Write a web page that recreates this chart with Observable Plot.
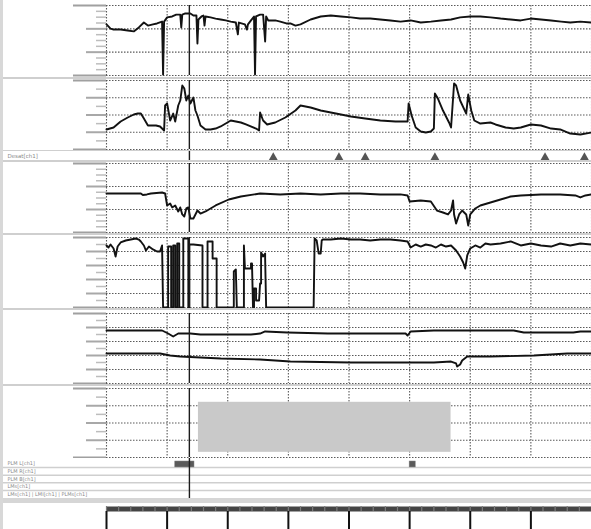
<!DOCTYPE html>
<html><head><meta charset="utf-8">
<script src="https://cdn.jsdelivr.net/npm/d3@7"></script>
<script src="https://cdn.jsdelivr.net/npm/@observablehq/plot@0.6"></script>
<style>
body{margin:0;background:#fff;}
#root{position:relative;width:591px;height:529px;overflow:hidden;font-family:"DejaVu Sans",sans-serif;background:#fff;}
#root svg{display:block;background:transparent;font-family:"DejaVu Sans",sans-serif;}
.sep2{border-bottom:2px solid #cfcfcf;}
.top1{border-top:1px solid #cfcfcf;}
.band{border-bottom:5px solid #d6d6d6;}
#edge{position:absolute;left:0;top:0;width:3px;height:529px;background:#d8d8d8;}
</style></head><body><div id="root"></div><script>
// ---- time axis (seconds), cursor ----
const timeTicks = [0, 60, 120, 180, 240, 300, 360, 420, 480];
const axisTicks = [0, 60, 120, 180, 240, 300, 360, 420];
const minorTimeTicks = d3.range(0, 481, 12);
const cursorTime = [82];

// ---- panel 1 ----
const p1Time = [0,4,7,14,21,27,32,37,41,46,50,55,56,57,60,65,69,73,74,75,78,80,83,86,89,90,91,94,96,97,98,103,108,113,118,123,128,130,131,137,139,140,143,146,147,148,152,155,157,158,160,167,172,178,182,187,192,202,212,222,232,242,251,261,271,281,291,301,311,321,331,341,350,360,370,380,390,400,410,420,430,440,450,459,469,480];
const p1Value = [91.9,90.1,89.7,89.7,89.3,88.9,90.6,92.7,91.4,91.9,92.3,93.1,70.4,93.1,94.9,95.3,96.1,96.1,90.6,96.1,96.6,96.6,96.6,95.7,95.7,83.7,94.0,95.3,95.7,91.4,95.3,94.9,94.4,94.0,93.6,93.1,92.7,87.6,92.7,91.9,89.7,91.9,93.6,95.3,70.4,95.3,96.1,96.1,84.6,95.3,93.6,93.6,93.1,92.3,92.3,91.4,91.9,94.0,95.3,95.7,95.3,94.9,94.4,94.4,94.0,93.6,93.1,93.6,92.7,93.1,93.6,94.0,94.9,95.3,95.3,94.9,94.4,94.0,93.6,94.4,94.0,93.6,93.1,92.7,93.1,92.7];
const p1Major = [70, 80, 90, 100];
const p1Minor = [72.5, 75, 77.5, 82.5, 85, 87.5, 92.5, 95, 97.5];

// ---- panel 2 ----
const p2Time = [0,7,14,21,27,31,34,37,41,49,53,57,58,60,63,66,68,71,73,75,77,79,81,83,86,88,90,93,98,103,108,113,118,123,128,133,138,148,151,152,155,159,167,177,187,192,202,212,227,242,256,271,286,298,299,302,306,311,316,321,324,325,328,333,339,341,344,346,350,356,358,361,364,370,380,385,395,403,410,420,430,440,449,459,469,480];
const p2Value = [23.2,25.5,32.5,37.1,40.6,41.7,41.7,35.9,27.8,27.8,26.7,22.0,51.0,53.3,33.6,41.7,32.5,51.0,56.8,74.2,70.7,56.8,62.6,53.3,60.3,45.2,39.4,27.8,23.2,23.2,24.3,26.7,30.1,33.6,32.5,31.3,29.0,24.3,22.0,42.9,33.6,29.0,31.3,37.1,45.2,51.0,48.7,45.2,41.7,38.2,35.9,33.6,32.5,32.5,53.3,39.4,25.5,20.9,19.7,20.9,24.3,64.9,59.1,45.2,31.3,25.5,76.5,74.2,56.8,41.7,63.7,45.2,33.6,30.1,31.3,29.0,25.5,24.3,25.5,29.0,27.8,24.3,23.2,18.5,17.4,19.7];
const p2Major = [0, 20, 40, 60, 80];
const p2Minor = [10, 30, 50, 70];

// ---- event markers row ----
const markerLabel = ["Desat[ch1]"];
const markerTimes = [165, 230, 256, 325, 434, 473];

// ---- panel 3 ----
const p3Time = [0,34,36,40,44,55,58,60,63,65,68,71,73,75,77,79,81,83,86,90,93,98,108,121,133,152,172,192,212,232,251,271,291,298,300,311,321,327,333,338,341,343,344,346,349,352,356,358,360,365,370,380,390,400,410,430,449,464,469,474,480];
const p3Value = [33.9,33.9,32.6,33.1,33.9,34.8,33.9,23.5,25.2,21.8,23.5,18.3,21.8,15.7,13.9,20.9,21.8,12.2,12.2,19.1,16.5,18.3,23.5,28.7,31.3,33.9,33.1,33.9,33.1,33.9,33.9,33.1,33.1,32.2,27.0,27.8,27.0,19.1,17.4,15.7,19.1,27.8,15.7,7.8,15.7,19.1,15.7,6.1,15.7,20.9,23.5,26.1,28.7,31.3,32.2,33.1,33.1,32.2,30.5,32.2,33.1];
const p3Major = [0, 20, 40, 60];
const p3Minor = [5, 10, 15, 25, 30, 35, 45, 50, 55];

// ---- panel 4 ----
const p4Time = [0,2,4,7,9,11,14,19,24,29,32,34,37,39,42,46,50,53,55,56,61,61,64,64,66,66,68,68,70,70,72,72,76,76,81,81,82,82,86,95,95,100,100,105,105,109,109,126,126,128,129,130,136,136,137,143,143,144,145,146,146,148,148,151,152,153,153,155,157,157,158,205,206,208,210,212,213,214,222,232,242,251,261,271,281,291,298,301,306,311,316,321,326,331,336,341,346,350,353,355,357,360,365,370,375,380,390,400,410,420,430,440,449,459,469,480];
const p4Value = [88.6,85.7,90.0,84.3,72.9,87.1,92.9,95.7,97.1,98.6,97.1,94.3,88.6,81.4,87.1,82.9,80.0,80.0,88.6,0,0,87.1,87.1,0,0,88.6,88.6,0,0,91.4,91.4,0,0,98.6,98.6,0,0,90.0,90.0,88.6,0,0,94.3,94.3,70.0,70.0,0,0,51.4,54.3,0,0,0,88.6,55.7,55.7,62.9,62.9,0,0,27.1,27.1,10.0,10.0,34.3,34.3,78.6,72.9,77.1,70.0,0,0,98.6,95.7,77.1,77.1,95.7,97.1,97.1,98.6,97.1,97.1,95.7,97.1,97.1,95.7,94.3,85.7,90.0,87.1,90.0,88.6,85.7,90.0,87.1,88.6,81.4,72.9,64.3,55.7,74.3,84.3,88.6,85.7,91.4,90.0,91.4,94.3,88.6,91.4,88.6,87.1,91.4,88.6,91.4,90.0];
const p4Major = [0, 20, 40, 60, 80, 100];
const p4Minor = [10, 30, 50, 70, 90];

// ---- panel 5 (two traces) ----
const p5aTime = [0,55,61,66,71,83,93,143,152,157,179,219,239,296,298,301,324,403,413,462,469,480];
const p5aValue = [75.7,75.7,71.4,67.1,71.4,71.4,70.0,70.0,71.4,74.3,72.9,71.4,71.4,71.4,68.6,74.3,75.7,75.7,72.9,72.9,74.3,74.3];
const p5bTime = [0,53,63,73,93,113,152,182,242,324,341,346,347,350,352,357,380,423,456,480];
const p5bValue = [42.9,42.9,40.0,38.6,37.1,35.7,34.3,31.4,30.0,30.0,31.4,28.6,24.3,27.1,32.9,38.6,38.6,40.0,42.9,42.9];
const p5Major = [0, 20, 40, 60, 80, 100];
const p5Minor = [10, 30, 50, 70, 90];

// ---- panel 6 (shaded window) ----
const p6Start = [91];
const p6End = [341];
const p6Low = [6];
const p6High = [64];
const p6Major = [0, 20, 40, 60, 80];
const p6Minor = [10, 30, 50, 70];

// ---- event rows ----
const eventLabels = ["PLM L[ch1]", "PLM R[ch1]", "PLM B[ch1]", "LMs[ch1]", "LMs[ch1] | LMI[ch1] | PLMs[ch1]"];
const eventRow = [0, 0];
const eventStart = [68, 300];
const eventEnd = [87, 306];

// ------------------------------------------------------------
const zip = (t, v) => t.map((d, i) => ({t: d, v: v[i]}));
const dotted = {stroke: "#5a5a5a", strokeOpacity: 1, strokeDasharray: "1.5,1.5", strokeWidth: 1.1};
const trace = {x: "t", y: "v", stroke: "#121212", strokeWidth: 1.9, curve: "linear"};
const cursor = () => Plot.ruleX(cursorTime, {stroke: "#1c1c1c", strokeWidth: 1.4});
const blank = () => "";

function panel({height, top, bottom, major, minor, marks}) {
  const domain = [major[0], major[major.length - 1]];
  return Plot.plot({
    width: 591, height, marginLeft: 106, marginRight: 0, marginTop: top, marginBottom: bottom,
    x: {domain: [0, 480], axis: null},
    y: {domain, axis: null},
    marks: [
      Plot.gridX(timeTicks, dotted),
      Plot.gridY(major, dotted),
      Plot.axisY(minor, {anchor: "left", tickSize: 10, tickFormat: blank, label: null, stroke: "#bdbdbd", strokeWidth: 1.5}),
      Plot.axisY(major.slice(1, -1), {anchor: "left", tickSize: 20, tickFormat: blank, label: null, stroke: "#a8a8a8", strokeWidth: 2}),
      Plot.axisY(domain, {anchor: "left", tickSize: 33, tickFormat: blank, label: null, stroke: "#a0a0a0", strokeWidth: 2}),
      ...marks,
      cursor()
    ]
  });
}

function wrap(node, cls) {
  const d = document.createElement("div");
  if (cls) d.className = cls;
  d.appendChild(node);
  return d;
}

const root = document.getElementById("root");

root.appendChild(wrap(panel({height: 77, top: 5, bottom: 2, major: p1Major, minor: p1Minor,
  marks: [Plot.line(zip(p1Time, p1Value), trace)]}), "sep2"));

root.appendChild(wrap(panel({height: 71, top: 1, bottom: 1, major: p2Major, minor: p2Minor,
  marks: [Plot.line(zip(p2Time, p2Value), trace)]})));

root.appendChild(wrap(Plot.plot({
  width: 591, height: 9, margin: 0,
  x: {domain: [-105, 480], axis: null}, y: {domain: [0, 1], axis: null},
  marks: [
    Plot.text(markerLabel, {frameAnchor: "left", dx: 7, fontSize: 5.5, fill: "#8a8a8a"}),
    Plot.dot(markerTimes, {x: d => d, symbol: "triangle", r: 3.3, fill: "#555", stroke: null, dy: 1.5}),
    cursor()
  ]
}), "top1 sep2"));

root.appendChild(wrap(panel({height: 71, top: 1, bottom: 1, major: p3Major, minor: p3Minor,
  marks: [Plot.line(zip(p3Time, p3Value), trace)]}), "sep2"));

root.appendChild(wrap(panel({height: 73, top: 2, bottom: 1, major: p4Major, minor: p4Minor,
  marks: [Plot.line(zip(p4Time, p4Value), trace)]}), "sep2"));

root.appendChild(wrap(panel({height: 74, top: 3, bottom: 1, major: p5Major, minor: p5Minor,
  marks: [Plot.line(zip(p5aTime, p5aValue), trace), Plot.line(zip(p5bTime, p5bValue), trace)]}), "sep2"));

const shade = p6Start.map((s, i) => ({x1: s, x2: p6End[i], y1: p6Low[i], y2: p6High[i]}));
root.appendChild(wrap(panel({height: 72, top: 2, bottom: 1, major: p6Major, minor: p6Minor,
  marks: [Plot.rect(shade, {x1: "x1", x2: "x2", y1: "y1", y2: "y2", fill: "#c9c9c9"})]})));

const events = eventStart.map((s, i) => ({start: s, end: eventEnd[i], row: eventRow[i]}));
root.appendChild(wrap(Plot.plot({
  width: 591, height: 40, margin: 0,
  x: {domain: [-105, 480], axis: null},
  y: {domain: [0, 5], range: [1.5, 39.5], axis: null},
  marks: [
    Plot.ruleY([1, 2, 3, 4], {stroke: "#cfcfcf", strokeWidth: 1.5}),
    Plot.text(eventLabels, {frameAnchor: "left", dx: 7, y: (d, i) => i + 0.5, fontSize: 5, fill: "#8a8a8a", textAnchor: "start"}),
    Plot.rect(events, {x1: "start", x2: "end", y1: d => d.row + 0.2, y2: d => d.row + 0.98, fill: "#5a5a5a", stroke: "#7a7a7a", strokeWidth: 0.5}),
    cursor()
  ]
}), "band"));

root.appendChild(wrap(Plot.plot({
  width: 591, height: 26, marginLeft: 106, marginRight: 0, marginTop: 3, marginBottom: 18,
  x: {domain: [0, 480], axis: null}, y: {axis: null},
  marks: [
    Plot.frame({fill: "#444", stroke: null}),
    Plot.tickX(minorTimeTicks, {x: d => d, stroke: "#7a7a7a", strokeWidth: 1.2}),
    Plot.axisX(axisTicks, {anchor: "bottom", tickSize: 18, tickFormat: blank, label: null, stroke: "#111", strokeWidth: 2})
  ]
})));

const edge = document.createElement("div");
edge.id = "edge";
root.appendChild(edge);
</script></body></html>
